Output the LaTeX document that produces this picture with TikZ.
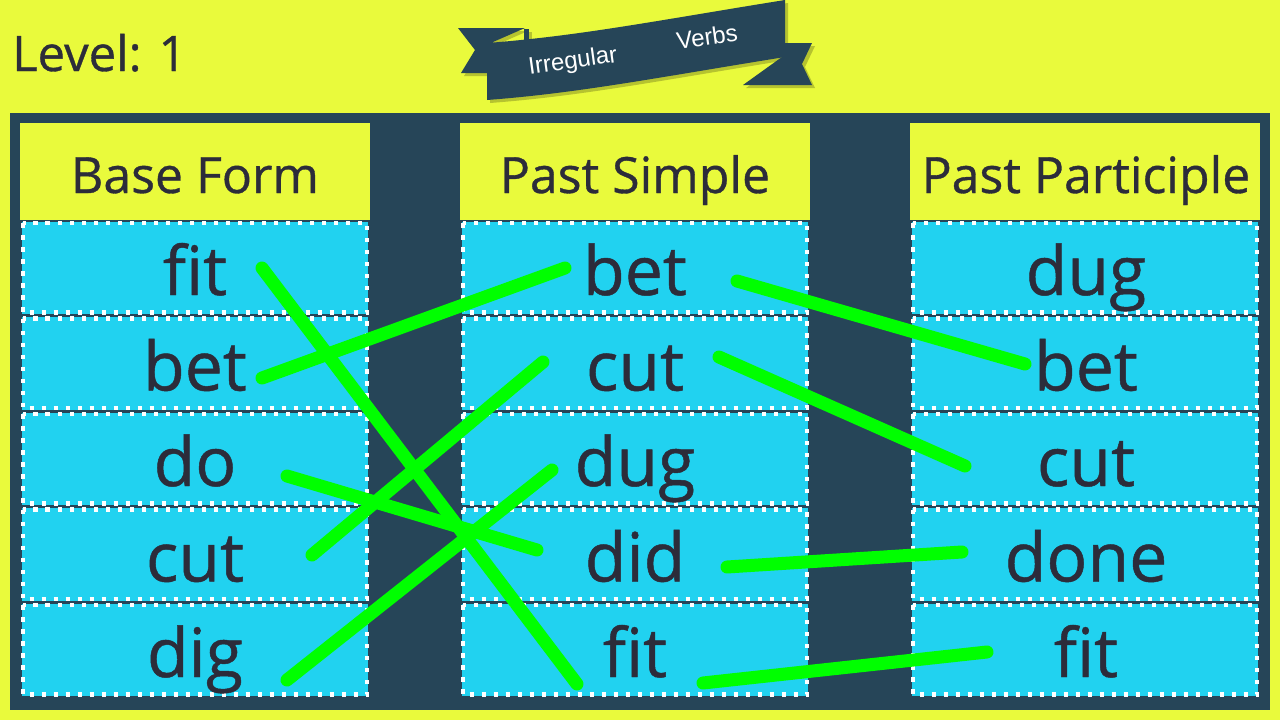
\documentclass[tikz,border=0pt]{standalone}
\usepackage{fontspec}
\setmainfont{Open Sans}
\newfontfamily\wordfont{Open Sans}[FakeBold=0.7]
\newfontfamily\bannerfont{Liberation Sans}
\definecolor{bgy}{RGB}{233,250,60}
\definecolor{panel}{RGB}{38,69,88}
\definecolor{cellb}{RGB}{33,210,240}
\definecolor{ink}{RGB}{44,44,58}
\definecolor{lineg}{RGB}{0,255,0}
\newcommand\myribbon[1]{%
 \fill[#1] (458,28) -- (525,28) -- (493,42) -- (487,73) -- (461,73) -- (475,50) -- cycle;
 \fill[#1] (524,29) -- (529,29) -- (529,43) -- (524,43) -- cycle;
 \fill[#1] (785,43) -- (812,43) -- (802,64) -- (812,85) -- (743,85) -- (782,57) -- (785,57) -- cycle;
 \fill[#1] (487,43) .. controls (580,36) and (660,20) .. (785,0) -- (785,57) .. controls (660,77) and (580,93) .. (487,100) -- cycle;
}
\begin{document}
\begin{tikzpicture}[x=1pt,y=-1pt,
  hdr/.style={font=\wordfont\fontsize{50}{56}\selectfont, text=ink, anchor=base, inner sep=0pt},
  word/.style={font=\wordfont\fontsize{68}{76}\selectfont, text=ink, anchor=base, inner sep=0pt},
  match/.style={draw=lineg, line width=13pt, line cap=round},
  celledge/.style={draw=white, line width=4.5pt, dash pattern=on 4.5pt off 7.5pt},
  bannertext/.style={font=\bannerfont\fontsize{24}{28}\selectfont, text=white, rotate=8, inner sep=0pt}]
\useasboundingbox (0,0) rectangle (1280,720);
\fill[bgy] (0,0) rectangle (1280,720);
\fill[panel] (10,113) rectangle (1270,710);

% banner
\begin{scope}[shift={(3,3)}]
 \myribbon{black!22!bgy}
\end{scope}
\myribbon{panel}
\node[bannertext] (irr) at (573,62) {Irregular};
\node[bannertext] (vrb) at (707,37) {Verbs};

\node[anchor=base west, inner sep=0pt, font=\wordfont\fontsize{49}{56}\selectfont, text=ink] (lvl) at (12,71) {Level: 1};

% columns
\foreach \x in {20,460,910}{
  \fill[bgy] (\x,123) rectangle ({\x+350},220);
  \foreach \k in {0,...,4}{
    \pgfmathsetmacro\t{220+95.5*\k}
    \fill[cellb] ({\x+2},{\t+1.5}) rectangle ({\x+348},{\t+94});
    \draw[celledge] ({\x+3},{\t+3}) rectangle ({\x+347},{\t+92.5});
  }
}

\node[hdr] (h1) at (195,193) {Base Form};
\node[hdr] (h2) at (635,193) {Past Simple};
\node[hdr] (h3) at (1086,193) {Past Participle};

\foreach \w [count=\i from 0] in {fit,bet,do,cut,dig}
  \node[word] (b\i) at (195,{295+95.5*\i}) {\w};
\foreach \w [count=\i from 0] in {bet,cut,dug,did,fit}
  \node[word] (p\i) at (635,{295+95.5*\i}) {\w};
\foreach \w [count=\i from 0] in {dug,bet,cut,done,fit}
  \node[word] (q\i) at (1086,{295+95.5*\i}) {\w};

% connector ends
\coordinate (a1) at (262,268); \coordinate (z1) at (577,684);
\coordinate (a2) at (262,378); \coordinate (z2) at (565,268);
\coordinate (a3) at (287,476); \coordinate (z3) at (537,550);
\coordinate (a4) at (312,555); \coordinate (z4) at (543,362);
\coordinate (a5) at (287,680); \coordinate (z5) at (552,470);
\coordinate (a6) at (737,281); \coordinate (z6) at (1025,364);
\coordinate (a7) at (719,357); \coordinate (z7) at (965,466);
\coordinate (a8) at (727,567); \coordinate (z8) at (962,552);
\coordinate (a9) at (703,683); \coordinate (z9) at (987,652);
\foreach \i in {1,...,9}
  \draw[match] (a\i) -- (z\i);
\end{tikzpicture}
\end{document}
